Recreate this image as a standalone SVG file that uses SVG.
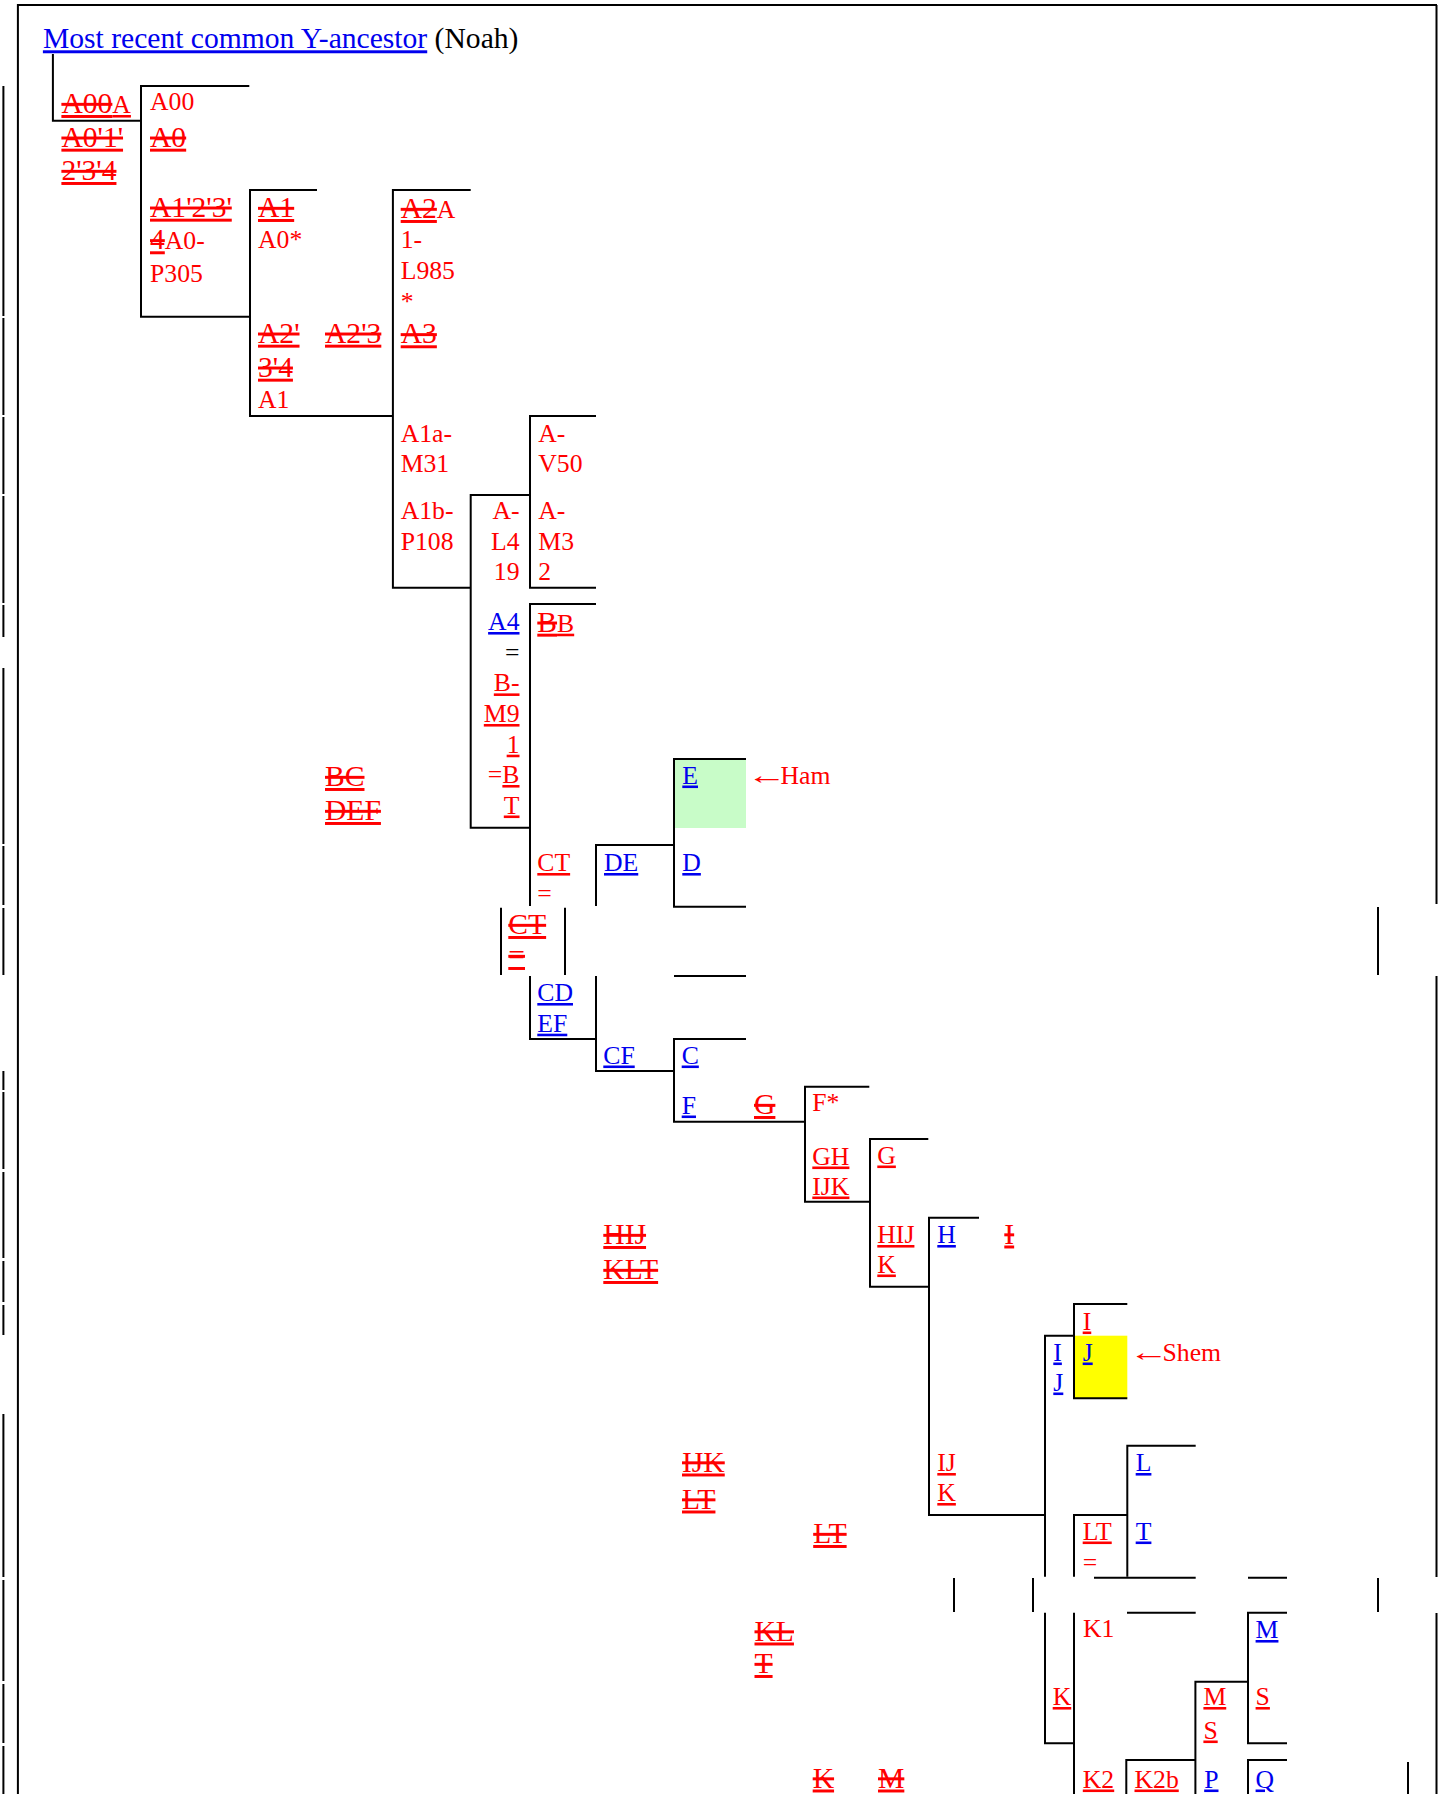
<svg xmlns="http://www.w3.org/2000/svg" width="1443" height="1794" viewBox="0 0 1443 1794">
<style>
text { font-family: "Liberation Serif", "Times New Roman", serif; font-size: 25.7px; }
.title { font-size: 29.6px; }
.r { fill: #ff0000; }
.s { fill: #ff0000; font-size: 29.6px; text-decoration: underline line-through; text-decoration-thickness: 2px; }
.u { fill: #ff0000; text-decoration: underline; text-decoration-thickness: 2px; }
.b { fill: #0000ee; text-decoration: underline; text-decoration-thickness: 2px; }
.k { fill: #000000; }
.ln { stroke: #000000; stroke-width: 2; fill: none; }
.e { text-anchor: end; }
</style>
<rect width="1443" height="1794" fill="#ffffff"/>
<rect x="674" y="759" width="72" height="69" fill="#c8fcc8"/>
<rect x="1074" y="1335.7" width="53.3" height="62.6" fill="#ffff00"/>
<g id="connectors" class="ln">
<path d="M17.9,1794 V5 H1437"/>
<path d="M1436.5,5 V904 M1436.5,976 V1577 M1436.5,1613 V1794"/>
<path d="M3.4,86 V316 M3.4,318 V415 M3.4,417 V494 M3.4,496 V603 M3.4,605 V637 M3.4,668 V844 M3.4,846 V905 M3.4,908 V975 M3.4,1071 V1090 M3.4,1092 V1169 M3.4,1172 V1258 M3.4,1261 V1302 M3.4,1305 V1335 M3.4,1414 V1577 M3.4,1580 V1681 M3.4,1684 V1743 M3.4,1746 V1794"/>
<path d="M52.9,54 V120.7 H141"/>
<path d="M249.3,86 H141 V316.7 H250"/>
<path d="M317,190 H250 V416 H392.9"/>
<path d="M470.7,190 H392.9 V587.7 H470.7"/>
<path d="M530,495 H470.7 V827.7 H530"/>
<path d="M596,416 H530 V587.7 H596"/>
<path d="M596,604 H530 V906"/>
<path d="M674,845 H596 V906"/>
<path d="M746,759 H674 V906.7 H746"/>
<path d="M501,907.7 V975 M565,907.7 V975"/>
<path d="M1378,907 V975 M1378,1578 V1612"/>
<path d="M674,976 H746"/>
<path d="M530,976 V1039 H596"/>
<path d="M596,976 V1071 H674"/>
<path d="M746,1039 H674 V1121.7 H805"/>
<path d="M869.3,1086.7 H805 V1201.7 H870"/>
<path d="M928.3,1139 H870 V1286.7 H929"/>
<path d="M979,1217.7 H929 V1515 H1045"/>
<path d="M1127.3,1304 H1074 V1398.3 H1127.3"/>
<path d="M1074,1335.7 H1045 V1576.7"/>
<path d="M1195.7,1445.7 H1127.3 V1576.7"/>
<path d="M1127.3,1515 H1074 V1576.7"/>
<path d="M1094,1577.7 H1195.7 M1248,1577.7 H1287"/>
<path d="M954,1578 V1612 M1033,1578 V1612"/>
<path d="M1127,1612.7 H1195.7"/>
<path d="M1045,1612.7 V1743.3 H1074 M1074,1612.7 V1794"/>
<path d="M1248,1681.7 H1195.4 V1794"/>
<path d="M1287,1612.7 H1248 V1743.3 H1287"/>
<path d="M1195.4,1760 H1126.3 V1794"/>
<path d="M1287,1760 H1248 V1794"/>
<path d="M1408,1762 V1794"/>
</g>
<g id="title"><text class="title" x="42.9" y="48.3"><tspan class="b">Most recent common Y-ancestor</tspan><tspan class="k"> (Noah)</tspan></text></g>
<g id="A00A">
<text x="61.4" y="113"><tspan class="s">A00</tspan><tspan class="u">A</tspan></text>
<text class="s" x="61.4" y="146.7">A0'1'</text>
<text class="s" x="61.4" y="180">2'3'4</text>
</g>
<g id="A00">
<text class="r" x="150" y="110">A00</text>
<text class="s" x="150" y="146.7">A0</text>
</g>
<g id="A1234">
<text class="s" x="150" y="216.7">A1'2'3'</text>
<text x="150" y="249.3"><tspan class="s">4</tspan><tspan class="r">A0-</tspan></text>
<text class="r" x="150" y="281.7">P305</text>
</g>
<g id="A1">
<text class="s" x="258" y="217">A1</text>
<text class="r" x="258" y="248.3">A0*</text>
</g>
<g id="A234">
<text class="s" x="258" y="342.7">A2'</text>
<text class="s" x="258" y="376.7">3'4</text>
<text class="r" x="258" y="408.3">A1</text>
</g>
<g id="A23"><text class="s" x="325" y="342.7">A2'3</text></g>
<g id="A2">
<text x="400.7" y="218"><tspan class="s">A2</tspan><tspan class="r">A</tspan></text>
<text class="r" x="400.7" y="248">1-</text>
<text class="r" x="400.7" y="279.3">L985</text>
<text class="r" x="400.7" y="310">*</text>
</g>
<g id="A3"><text class="s" x="400.7" y="343.3">A3</text></g>
<g id="A1a">
<text class="r" x="400.7" y="441.7">A1a-</text>
<text class="r" x="400.7" y="471.7">M31</text>
</g>
<g id="A1b">
<text class="r" x="400.7" y="519.3">A1b-</text>
<text class="r" x="400.7" y="550">P108</text>
</g>
<g id="AL419">
<text class="r e" x="519.5" y="519.3">A-</text>
<text class="r e" x="519.5" y="550">L4</text>
<text class="r e" x="519.5" y="580">19</text>
</g>
<g id="AV50">
<text class="r" x="538.3" y="441.7">A-</text>
<text class="r" x="538.3" y="471.7">V50</text>
</g>
<g id="AM32">
<text class="r" x="538.3" y="519.3">A-</text>
<text class="r" x="538.3" y="550">M3</text>
<text class="r" x="538.3" y="580">2</text>
</g>
<g id="A4">
<text class="b e" x="519.5" y="630">A4</text>
<text class="k e" x="519.5" y="660.7">=</text>
<text class="u e" x="519.5" y="691.4">B-</text>
<text class="u e" x="519.5" y="722">M9</text>
<text class="u e" x="519.5" y="752.7">1</text>
<text class="e" x="519.5" y="783"><tspan class="r">=</tspan><tspan class="u">B</tspan></text>
<text class="u e" x="519.5" y="813.5">T</text>
</g>
<g id="BB"><text x="537.3" y="631.7"><tspan class="s">B</tspan><tspan class="u">B</tspan></text></g>
<g id="BCDEF">
<text class="s" x="325" y="786">BC</text>
<text class="s" x="325" y="820">DEF</text>
</g>
<g id="E">
<text class="b" x="682.3" y="783.5">E</text>
<text class="r" x="747" y="783.5" textLength="40" lengthAdjust="spacingAndGlyphs">←</text>
<text class="r" x="780.5" y="783.5">Ham</text>
</g>
<g id="CT">
<text class="u" x="537.3" y="871">CT</text>
<text class="r" x="537.3" y="902">=</text>
</g>
<g id="DE"><text class="b" x="604" y="871">DE</text></g>
<g id="D"><text class="b" x="682.3" y="871">D</text></g>
<g id="CTs">
<text class="s" x="508.3" y="934">CT</text>
<text class="s" x="508.3" y="965">=</text>
</g>
<g id="CDEF">
<text class="b" x="537.3" y="1001">CD</text>
<text class="b" x="537.3" y="1031.7">EF</text>
</g>
<g id="CF"><text class="b" x="603.3" y="1063.5">CF</text></g>
<g id="C"><text class="b" x="681.7" y="1063.5">C</text></g>
<g id="F"><text class="b" x="681.7" y="1113.5">F</text></g>
<g id="Gs"><text class="s" x="754" y="1114">G</text></g>
<g id="Fstar"><text class="r" x="812.3" y="1110.5">F*</text></g>
<g id="GHIJK">
<text class="u" x="812.3" y="1164.5">GH</text>
<text class="u" x="812.3" y="1194.5">IJK</text>
</g>
<g id="G"><text class="u" x="877.3" y="1163.5">G</text></g>
<g id="HIJK">
<text class="u" x="877.3" y="1243">HIJ</text>
<text class="u" x="877.3" y="1272.5">K</text>
</g>
<g id="H"><text class="b" x="937.3" y="1243">H</text></g>
<g id="Is"><text class="s" x="1004.3" y="1243.5">I</text></g>
<g id="HIJKLTs">
<text class="s" x="603.3" y="1244">HIJ</text>
<text class="s" x="603.3" y="1279">KLT</text>
</g>
<g id="I"><text class="u" x="1082.7" y="1329.5">I</text></g>
<g id="J">
<text class="b" x="1082.7" y="1360.5">J</text>
<text class="r" x="1129" y="1360.5" textLength="40" lengthAdjust="spacingAndGlyphs">←</text>
<text class="r" x="1162.5" y="1360.5">Shem</text>
</g>
<g id="IJ">
<text class="b" x="1053.3" y="1360.5">I</text>
<text class="b" x="1053.3" y="1390.5">J</text>
</g>
<g id="IJK">
<text class="u" x="937.3" y="1471">IJ</text>
<text class="u" x="937.3" y="1501">K</text>
</g>
<g id="L"><text class="b" x="1135.7" y="1471">L</text></g>
<g id="IJKLTs">
<text class="s" x="682" y="1471.5">IJK</text>
<text class="s" x="682" y="1508.5">LT</text>
</g>
<g id="LTs"><text class="s" x="813.2" y="1543">LT</text></g>
<g id="LT">
<text class="u" x="1082.7" y="1539.5">LT</text>
<text class="r" x="1082.7" y="1570.5">=</text>
</g>
<g id="T"><text class="b" x="1135.7" y="1539.5">T</text></g>
<g id="KLTs">
<text class="s" x="754.5" y="1640.5">KL</text>
<text class="s" x="754.5" y="1673">T</text>
</g>
<g id="K1"><text class="r" x="1082.9" y="1636.7">K1</text></g>
<g id="M"><text class="b" x="1255.6" y="1638">M</text></g>
<g id="K"><text class="u" x="1052.7" y="1705">K</text></g>
<g id="MS">
<text class="u" x="1203.4" y="1705">M</text>
<text class="u" x="1203.4" y="1738.5">S</text>
</g>
<g id="S"><text class="u" x="1255.6" y="1705">S</text></g>
<g id="K2"><text class="u" x="1082.8" y="1787.5">K2</text></g>
<g id="K2b"><text class="u" x="1134.5" y="1787.5">K2b</text></g>
<g id="P"><text class="b" x="1204.2" y="1787.5">P</text></g>
<g id="Q"><text class="b" x="1255.6" y="1787.5">Q</text></g>
<g id="Ks"><text class="s" x="812.7" y="1787.5">K</text></g>
<g id="Ms"><text class="s" x="878" y="1787.5">M</text></g>
</svg>
